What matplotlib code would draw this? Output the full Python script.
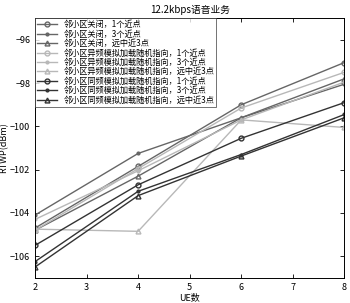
import numpy as np
import matplotlib
matplotlib.use('Agg')
import matplotlib.pyplot as plt

plt.rcParams['font.family'] = ['Noto Sans CJK SC', 'DejaVu Sans']

# UE数
ue = [2, 4, 6, 8]

# RTWP(dBm), 每条曲线一组
off_1 = [-104.7, -101.85, -99.0, -97.05]
off_3 = [-104.1, -101.25, -99.6, -98.05]
off_far = [-104.8, -102.3, -99.6, -97.8]
diff_1 = [-104.8, -101.95, -99.15, -97.5]
diff_3 = [-104.3, -102.05, -99.7, -97.95]
diff_far = [-104.75, -104.85, -99.7, -100.05]
same_1 = [-105.5, -102.7, -100.55, -98.9]
same_3 = [-106.25, -103.0, -101.3, -99.45]
same_far = [-106.5, -103.2, -101.37, -99.6]

labels = [
    '邻小区关闭，1个近点',
    '邻小区关闭，3个近点',
    '邻小区关闭，远中近3点',
    '邻小区异频模拟加载随机指向，1个近点',
    '邻小区异频模拟加载随机指向，3个近点',
    '邻小区异频模拟加载随机指向，远中近3点',
    '邻小区同频模拟加载随机指向，1个近点',
    '邻小区同频模拟加载随机指向，3个近点',
    '邻小区同频模拟加载随机指向，远中近3点',
]

series = [off_1, off_3, off_far, diff_1, diff_3, diff_far, same_1, same_3, same_far]
colors = ['#666666'] * 3 + ['#b8b8b8'] * 3 + ['#333333'] * 3
markers = ['o', '.', '^'] * 3

fig = plt.figure(figsize=(3.5, 3.03), dpi=100)
ax = fig.add_axes([0.1, 0.083, 0.884, 0.857])

for y, lab, c, m in zip(series, labels, colors, markers):
    ax.plot(ue, y, color=c, marker=m, markersize=3.5 if m != '.' else 4,
            markerfacecolor='none' if m != '.' else c, lw=1.0, label=lab)

ax.set_xlim(2, 8)
ax.set_ylim(-107, -95)
ax.set_xticks(range(2, 9))
ax.set_yticks([-106, -104, -102, -100, -98, -96])
ax.tick_params(direction='in', top=True, right=True, labelsize=6.5, length=3, width=0.6)
for s in ax.spines.values():
    s.set_linewidth(0.7)

ax.set_title('12.2kbps语音业务', fontsize=7, pad=4)
ax.set_xlabel('UE数', fontsize=6.5, labelpad=1)
ax.set_ylabel('RTWP(dBm)', fontsize=6.5, labelpad=1)

leg = ax.legend(loc='upper left', fontsize=5.9, frameon=True, fancybox=False,
                borderpad=0.25, labelspacing=0.05, handlelength=2.4,
                handletextpad=0.8, borderaxespad=0.0)
leg.get_frame().set_edgecolor('#333333')
leg.get_frame().set_linewidth(0.6)

fig.savefig('out.png', dpi=100)
